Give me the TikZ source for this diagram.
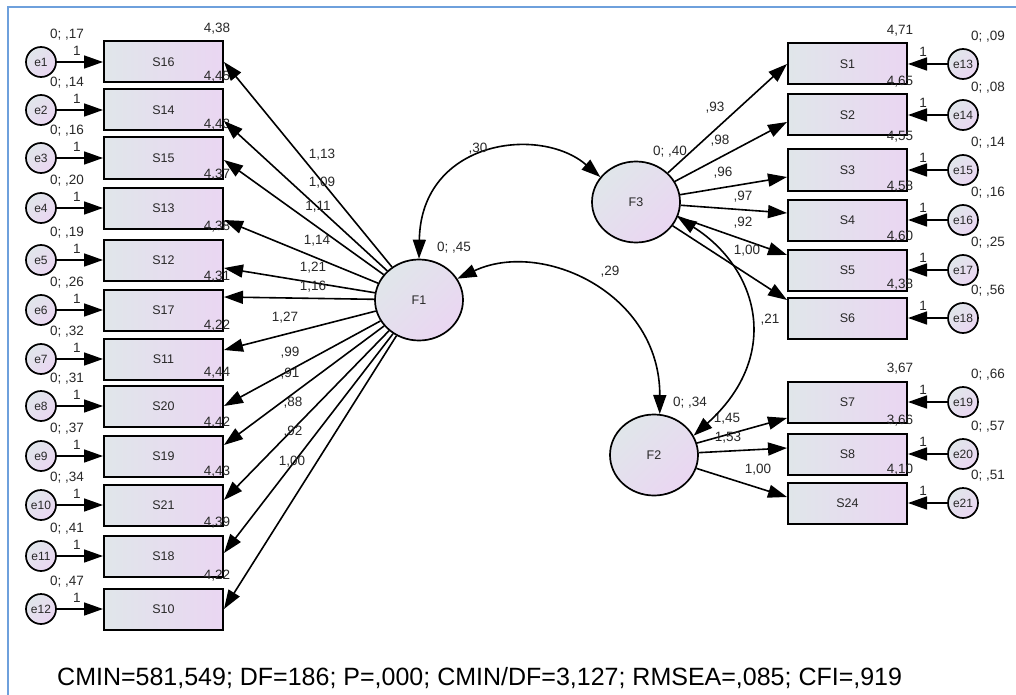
\documentclass[tikz,border=0pt]{standalone}
\usepackage{fontspec}
\setmainfont{Liberation Sans}
\usetikzlibrary{arrows.meta,shapes.geometric}
\definecolor{boxL}{RGB}{224,230,234}
\definecolor{boxR}{RGB}{234,214,242}
\definecolor{frameblue}{RGB}{110,160,220}
\definecolor{txt}{RGB}{40,40,40}
\begin{document}
\begin{tikzpicture}[x=1pt,y=-1pt,
 obs/.style={draw, line width=2pt, rectangle, minimum width=119pt, minimum height=41pt, inner sep=0pt, left color=boxL, right color=boxR, font=\fontsize{12.5}{12}\selectfont, text=txt},
 err/.style={draw, line width=1.7pt, circle, minimum size=30pt, inner sep=0pt, top color=boxL, bottom color=boxR, shading angle=45, font=\fontsize{12}{12}\selectfont, text=txt},
 lat/.style={draw, line width=1.7pt, ellipse, minimum width=88pt, minimum height=81pt, inner sep=0pt, top color=boxL, bottom color=boxR, shading angle=45, font=\fontsize{12.5}{12}\selectfont, text=txt},
 lbl/.style={inner sep=0pt, font=\fontsize{13.5}{14}\selectfont, text=txt},
 arr/.style={line width=1.6pt, -{Triangle[length=19pt,width=13pt]}},
 cov/.style={line width=1.6pt, {Triangle[length=19pt,width=13pt]}-{Triangle[length=19pt,width=13pt]}},
]
\useasboundingbox (0,0) rectangle (1016,695);
\fill[white] (0,0) rectangle (1016,695);
\draw[frameblue, line width=1.8pt] (8,695) -- (8,7) -- (1016,7);

% latent variables
\node[lat] (F1) at (419,300) {F1};
\node[lat] (F3) at (636,202) {F3};
\node[lat] (F2) at (654,455) {F2};
\node[lbl] (vF1) at (454,248) {0; ,45};
\node[lbl] (vF3) at (670,152) {0; ,40};
\node[lbl] (vF2) at (690,403) {0; ,34};

% left indicators
\foreach \e/\s/\y/\v/\m in {e1/S16/62/17/{4,38}, e2/S14/110/14/{4,45}, e3/S15/158/16/{4,43}, e4/S13/208/20/{4,37}, e5/S12/260/19/{4,38}, e6/S17/310/26/{4,31}, e7/S11/359/32/{4,22}, e8/S20/406/31/{4,44}, e9/S19/456/37/{4,42}, e10/S21/505/34/{4,43}, e11/S18/556/41/{4,39}, e12/S10/609/47/{4,22}}{
 \node[obs] (\s) at (163.5,\y) {\s};
 \node[err] (\e) at (41,\y) {\e};
 \draw[arr] (\e) -- (\s);
 \node[lbl] (v\e) at (67,\y-27) {0; ,\v};
 \node[lbl] (w\e) at (77,\y-11) {1};
 \node[lbl] (m\s) at (217,\y-33) {\m};
}

% right indicators
\foreach \e/\s/\y/\v/\m in {e13/S1/64/09/{4,71}, e14/S2/115/08/{4,65}, e15/S3/170/14/{4,55}, e16/S4/220/16/{4,58}, e17/S5/270/25/{4,60}, e18/S6/318/56/{4,38}, e19/S7/402/66/{3,67}, e20/S8/454/57/{3,66}, e21/S24/503/51/{4,10}}{
 \node[obs] (\s) at (847.5,\y) {\s};
 \node[err] (\e) at (963,\y) {\e};
 \draw[arr] (\e) -- (\s);
 \node[lbl] (v\e) at (988,\y-27) {0; ,\v};
 \node[lbl] (w\e) at (923,\y-12) {1};
 \node[lbl] (m\s) at (900,\y-33) {\m};
}

% loadings F1
\foreach \s/\d in {S16/0, S14/-11, S15/-2, S13/-12, S12/-8, S17/13, S11/9, S20/0, S19/11, S21/5, S18/3, S10/0}
 \draw[arr] (F1) -- ([yshift=\d pt]\s.east);
\foreach \t/\x/\y [count=\k] in {{1,13}/322/155, {1,09}/322/183, {1,11}/318/207, {1,14}/317/241, {1,21}/313/268, {1,16}/313/287, {1,27}/285/318, {,99}/290/353, {,91}/290/374, {,88}/293/403, {,92}/293/432, {1,00}/292/462}
 \node[lbl] (lf\k) at (\x,\y) {\t};

% loadings F3
\foreach \s/\d in {S1/0, S2/-7, S3/-7, S4/7, S5/15, S6/18}
 \draw[arr] (F3) -- ([yshift=\d pt]\s.west);
\foreach \t/\x/\y [count=\k] in {{,93}/715/108, {,98}/720/141, {,96}/723/173, {,97}/743/197, {,92}/743/223, {1,00}/747/251}
 \node[lbl] (lg\k) at (\x,\y) {\t};

% loadings F2
\foreach \s/\d in {S7/-16, S8/6, S24/6}
 \draw[arr] (F2) -- ([yshift=\d pt]\s.west);
\foreach \t/\x/\y [count=\k] in {{1,45}/727/419, {1,53}/728/438, {1,00}/758/470}
 \node[lbl] (lh\k) at (\x,\y) {\t};

% covariances
\draw[cov] (F1.north) .. controls (421,140) and (540,125) .. (F3.145);
\node[lbl] (c13) at (478,149) {,30};
\draw[cov] (F1.29) .. controls (542,239) and (660,293) .. (F2.82);
\node[lbl] (c12) at (610,272) {,29};
\draw[cov] (F3.-20) .. controls (758,268) and (783,355) .. (F2.26);
\node[lbl] (c32) at (770,320) {,21};

% fit statistics
\node[anchor=west, inner sep=0pt, font=\fontsize{25}{25}\selectfont, text=black] (fit) at (57,678) {CMIN=581,549; DF=186; P=,000; CMIN/DF=3,127; RMSEA=,085; CFI=,919};
\end{tikzpicture}
\end{document}
